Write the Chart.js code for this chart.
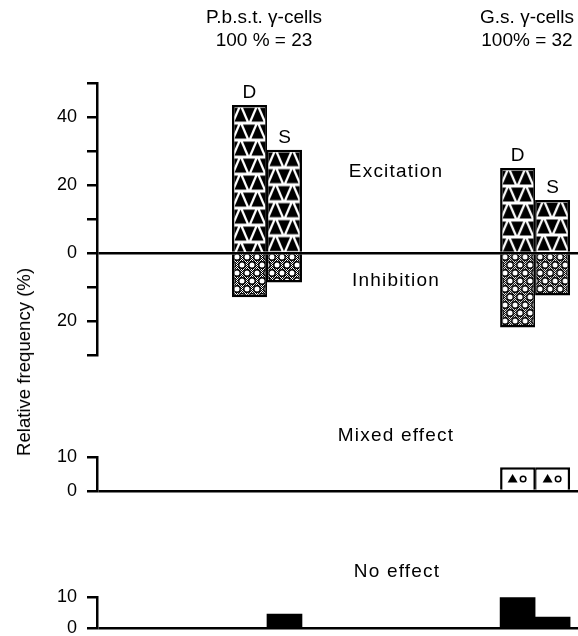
<!DOCTYPE html>
<html>
<head>
<meta charset="utf-8">
<script src="https://cdn.jsdelivr.net/npm/chart.js@4.4.1/dist/chart.umd.min.js"></script>
<style>
    html, body { margin: 0; padding: 0; background: #fff; }
    body {
        width: 578px; height: 636px; overflow: hidden; position: relative;
        font-family: 'Liberation Sans', Arial, sans-serif; color: #000;
    }
    canvas { position: absolute; left: 0; }
    .txt {
        position: absolute; font-size: 19px; line-height: 23px;
        white-space: nowrap; text-align: center; width: 240px;
    }
    .lbl { letter-spacing: 1.2px; }
    #yTitle {
        position: absolute; left: 23.5px; top: 362px; font-size: 18.6px;
        white-space: nowrap; transform: translate(-50%, -50%) rotate(-90deg);
    }
</style>
</head>
<body>
<canvas id="mainChart" width="578" height="380" style="top:0"></canvas>
<canvas id="mixedChart" width="578" height="100" style="top:420px"></canvas>
<canvas id="noneChart" width="578" height="90" style="top:560px"></canvas>

<div class="txt" style="left:144px;top:5px">P.b.s.t. γ-cells<br>100 % = 23</div>
<div class="txt" style="left:407px;top:5px">G.s. γ-cells<br>100% = 32</div>
<div class="txt lbl" style="left:276px;top:159px">Excitation</div>
<div class="txt lbl" style="left:276px;top:268px">Inhibition</div>
<div class="txt lbl" style="left:276px;top:423px">Mixed effect</div>
<div class="txt lbl" style="left:277px;top:559px">No effect</div>
<div id="yTitle">Relative frequency (%)</div>

<script>
// Values are % of cells in each group (inhibition plotted downwards)
const groups = ['P.b.s.t. γ-cells', 'G.s. γ-cells'];
const excitationD = [43.5, 25.0];
const excitationS = [30.4, 15.6];
const inhibitionD = [-13.0, -21.9];
const inhibitionS = [-8.7, -12.5];
const mixedD = [0, 7.0];
const mixedS = [0, 7.0];
const noEffectD = [0, 9.8];
const noEffectS = [4.5, 3.5];
const mainTickLabels = [40, 20, 0, -20];
const smallTickLabels = [0, 10];

const axisLeft = 97;
const barWidth = 35;
const xMin = 0.366;
const xMax = 2.160;
const labelFont = 'Liberation Sans';

// one point per group, x is the group number
function toPoints(values) {
    return values.map((v, i) => ({ x: i + 1, y: v }));
}

function makeTile(w, h, draw) {
    const c = document.createElement('canvas');
    c.width = w;
    c.height = h;
    draw(c.getContext('2d'));
    return c;
}

// rows of black up/down triangles
const triangleTile = makeTile(17, 17, (g) => {
    g.fillStyle = '#fff';
    g.fillRect(0, 0, 17, 17);
    g.fillStyle = '#000';
    const top = 1.5, bottom = 15.5;
    g.beginPath();
    g.moveTo(2.5, bottom); g.lineTo(8.5, top); g.lineTo(14.5, bottom);
    g.closePath(); g.fill();
    [0, 17].forEach((cx) => {
        g.beginPath();
        g.moveTo(cx - 6, top); g.lineTo(cx + 6, top); g.lineTo(cx, bottom);
        g.closePath(); g.fill();
    });
});

// open circles on a stippled ground
const ringTile = makeTile(10, 16, (g) => {
    g.fillStyle = '#fff';
    g.fillRect(0, 0, 10, 16);
    g.fillStyle = '#000';
    for (let y = 0; y < 16; y++) {
        for (let x = 0; x < 10; x++) {
            if ((x + y) % 2 === 0) g.fillRect(x, y, 1, 1);
        }
    }
    g.lineWidth = 1.4;
    g.strokeStyle = '#000';
    [[5, 4], [0, 12], [10, 12]].forEach(([cx, cy]) => {
        g.beginPath();
        g.arc(cx, cy, 3.2, 0, Math.PI * 2);
        g.fillStyle = '#fff';
        g.fill();
        g.stroke();
    });
});

// pattern lined up with the bar's own left edge and top
function barPattern(tile, stack, fromTop) {
    return (c) => {
        const chart = c.chart;
        const xs = chart.scales.x;
        const ys = chart.scales.y;
        if (!xs || !ys || !c.raw) return '#fff';
        const center = xs.getPixelForValue(c.raw.x);
        const left = stack === 'D' ? center - barWidth : center;
        const top = fromTop ? ys.getPixelForValue(c.raw.y) + 1 : ys.getPixelForValue(0);
        const p = chart.ctx.createPattern(tile, 'repeat');
        p.setTransform(new DOMMatrix([1, 0, 0, 1, left, top]));
        return p;
    };
}

const borderD = { top: 2.5, left: 2.5, right: 1.8, bottom: 2.5 };
const borderS = { top: 2.5, left: 1.5, right: 2.5, bottom: 2.5 };

function xScale() {
    return {
        type: 'linear', display: false, min: xMin, max: xMax,
        offset: false, grid: { offset: false }
    };
}

function yScale(min, max, labelled, extra) {
    return Object.assign({
        min: min,
        max: max,
        afterFit: (s) => { s.width = axisLeft; },
        border: { display: true, color: '#000', width: 2.5 },
        grid: {
            color: (c) => (c.tick && c.tick.value === 0 ? '#000' : 'rgba(0,0,0,0)'),
            lineWidth: 2.5,
            tickColor: '#000',
            tickWidth: 2.5,
            tickLength: 10
        },
        ticks: {
            stepSize: 10,
            padding: 10,
            color: '#000',
            font: { family: labelFont, size: 18 },
            callback: (v) => (labelled.includes(v) ? String(Math.abs(v)) : '')
        }
    }, extra || {});
}

const baseOptions = (padTop, padBottom) => ({
    responsive: false,
    animation: false,
    events: [],
    layout: { padding: { top: padTop, bottom: padBottom, left: 0, right: 0 } },
    plugins: { legend: { display: false }, tooltip: { enabled: false } }
});

// D / S letters above excitation bars
const stackLabels = {
    id: 'stackLabels',
    afterDatasetsDraw(chart) {
        const g = chart.ctx;
        g.save();
        g.font = '19px "' + labelFont + '"';
        g.textAlign = 'center';
        g.fillStyle = '#000';
        chart.data.datasets.forEach((ds, di) => {
            if (!ds.labelAbove) return;
            chart.getDatasetMeta(di).data.forEach((bar) => {
                g.fillText(ds.stack, bar.x, bar.y - 7);
            });
        });
        g.restore();
    }
};

// small triangle + circle symbol inside mixed-effect boxes
const mixedMarks = {
    id: 'mixedMarks',
    afterDatasetsDraw(chart) {
        const g = chart.ctx;
        chart.data.datasets.forEach((ds, di) => {
            chart.getDatasetMeta(di).data.forEach((bar, i) => {
                if (!ds.data[i].y) return;
                const cx = bar.x;
                const cy = (bar.y + bar.base) / 2;
                g.save();
                g.fillStyle = '#000';
                g.beginPath();
                g.moveTo(cx - 10, cy + 4);
                g.lineTo(cx - 5, cy - 4.5);
                g.lineTo(cx, cy + 4);
                g.closePath();
                g.fill();
                g.lineWidth = 1.5;
                g.strokeStyle = '#000';
                g.beginPath();
                g.arc(cx + 5.5, cy + 0.5, 2.8, 0, Math.PI * 2);
                g.stroke();
                g.restore();
            });
        });
    }
};

new Chart(document.getElementById('mainChart'), {
    type: 'bar',
    data: {
        datasets: [
            { data: toPoints(excitationD), stack: 'D', labelAbove: true,
              backgroundColor: barPattern(triangleTile, 'D', true), borderWidth: borderD },
            { data: toPoints(inhibitionD), stack: 'D',
              backgroundColor: barPattern(ringTile, 'D', false), borderWidth: borderD },
            { data: toPoints(excitationS), stack: 'S', labelAbove: true,
              backgroundColor: barPattern(triangleTile, 'S', true), borderWidth: borderS },
            { data: toPoints(inhibitionS), stack: 'S',
              backgroundColor: barPattern(ringTile, 'S', false), borderWidth: borderS }
        ]
    },
    options: Object.assign(baseOptions(83, 25), {
        datasets: { bar: { barThickness: barWidth, borderColor: '#000', inflateAmount: 0 } },
        scales: {
            x: xScale(),
            y: yScale(-30, 50, mainTickLabels, { z: 1 })
        }
    }),
    plugins: [stackLabels]
});

new Chart(document.getElementById('mixedChart'), {
    type: 'bar',
    data: {
        datasets: [
            { data: toPoints(mixedD), stack: 'D', backgroundColor: '#fff', borderWidth: borderD },
            { data: toPoints(mixedS), stack: 'S', backgroundColor: '#fff', borderWidth: borderS }
        ]
    },
    options: Object.assign(baseOptions(37, 29), {
        datasets: { bar: { barThickness: barWidth, borderColor: '#000', inflateAmount: 0 } },
        scales: {
            x: xScale(),
            y: yScale(0, 10, smallTickLabels, { z: 1 })
        }
    }),
    plugins: [mixedMarks]
});

new Chart(document.getElementById('noneChart'), {
    type: 'bar',
    data: {
        datasets: [
            { data: toPoints(noEffectD), stack: 'D', backgroundColor: '#000' },
            { data: toPoints(noEffectS), stack: 'S', backgroundColor: '#000' }
        ]
    },
    options: Object.assign(baseOptions(37, 22), {
        datasets: { bar: { barThickness: barWidth, borderWidth: 0 } },
        scales: {
            x: xScale(),
            y: yScale(0, 10, smallTickLabels)
        }
    })
});
</script>
</body>
</html>
